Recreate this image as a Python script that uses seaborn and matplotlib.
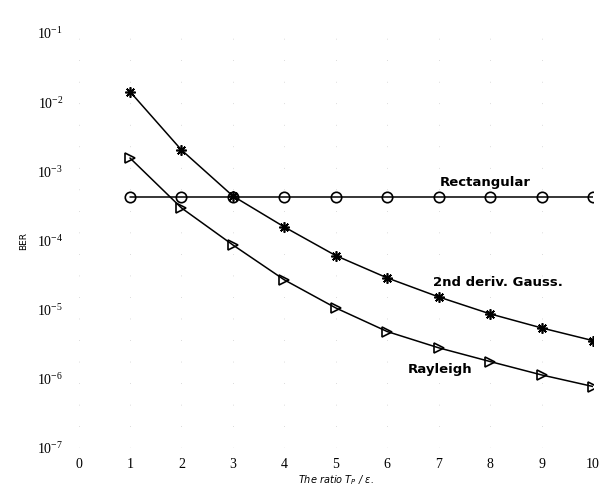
import numpy as np
import pandas as pd
import matplotlib
matplotlib.use("Agg")
import matplotlib.pyplot as plt
from matplotlib.ticker import FixedLocator, FuncFormatter
import seaborn as sns

# ---- data ----
ratio = [1, 2, 3, 4, 5, 6, 7, 8, 9, 10]
ber_rect = [4.3e-4] * 10
ber_gauss = [1.42e-2, 2.04e-3, 4.4e-4, 1.57e-4, 6.05e-5, 2.88e-5, 1.53e-5, 8.7e-6, 5.45e-6, 3.57e-6]
ber_rayleigh = [1.56e-3, 2.96e-4, 8.63e-5, 2.7e-5, 1.06e-5, 4.83e-6, 2.81e-6, 1.78e-6, 1.14e-6, 7.75e-7]
x_ticks = [0, 1, 2, 3, 4, 5, 6, 7, 8, 9, 10]
y_exponents = [-1, -2, -3, -4, -5, -6, -7]
series_labels = ["Rectangular", "2nd deriv. Gauss.", "Rayleigh"]

sns.set_style("white")
plt.rcParams["font.family"] = ["DejaVu Sans"]
plt.rcParams["mathtext.default"] = "regular"
plt.rcParams["text.color"] = "black"
plt.rcParams["axes.labelcolor"] = "black"
plt.rcParams["xtick.color"] = "black"
plt.rcParams["ytick.color"] = "black"

fig = plt.figure(figsize=(6.05, 4.95), dpi=100)
ax = fig.add_axes([0.1298, 0.0949, 0.8504, 0.8384])

common = dict(ax=ax, color="black", linewidth=1.1, legend=False,
              markeredgecolor="black", markeredgewidth=1.2)
sns.lineplot(x=ratio, y=ber_rect, marker="o", markersize=7.5,
             markerfacecolor="none", **common)
sns.lineplot(x=ratio, y=ber_gauss, marker=(8, 2, 0), markersize=7.5, **common)
sns.lineplot(x=ratio, y=ber_rayleigh, marker=">", markersize=7,
             markerfacecolor="none", **common)

ax.set_yscale("log")
ax.set_xlim(0, 10)
ax.set_ylim(1e-7, 1e-1)

ax.xaxis.set_major_locator(FixedLocator(x_ticks))
ax.yaxis.set_major_locator(FixedLocator([10.0 ** e for e in y_exponents]))
ax.yaxis.set_minor_locator(FixedLocator([]))
ax.yaxis.set_major_formatter(FuncFormatter(
    lambda v, p: r"$10^{%d}$" % int(round(np.log10(v)))))

for lab in ax.get_xticklabels() + ax.get_yticklabels():
    lab.set_family("Liberation Serif")
    lab.set_fontsize(10)
    lab.set_color("black")

ax.tick_params(axis="both", length=0, colors="black")
ax.tick_params(axis="x", pad=7)
ax.tick_params(axis="y", pad=11)

for s in ax.spines.values():
    s.set_visible(False)

# very faint, sparse dotted vertical grid
ax.grid(True, axis="x", which="major", color="#bbbbbb",
        linestyle=(0, (1, 30)), linewidth=0.5)

ax.set_ylabel("BER", fontsize=6.5, labelpad=6, color="black")
ax.set_xlabel(r"The ratio T$_P$ / ε.", fontsize=7, style="italic",
              labelpad=2, color="black")

# series labels
ax.text(7.90, 6.87e-4, series_labels[0], fontsize=9.5, fontweight="bold",
        ha="center", va="center", color="black")
ax.text(8.15, 2.44e-5, series_labels[1], fontsize=9.5, fontweight="bold",
        ha="center", va="center", color="black")
ax.text(7.03, 1.35e-6, series_labels[2], fontsize=9.5, fontweight="bold",
        ha="center", va="center", color="black")

fig.savefig("out.png", dpi=100)
